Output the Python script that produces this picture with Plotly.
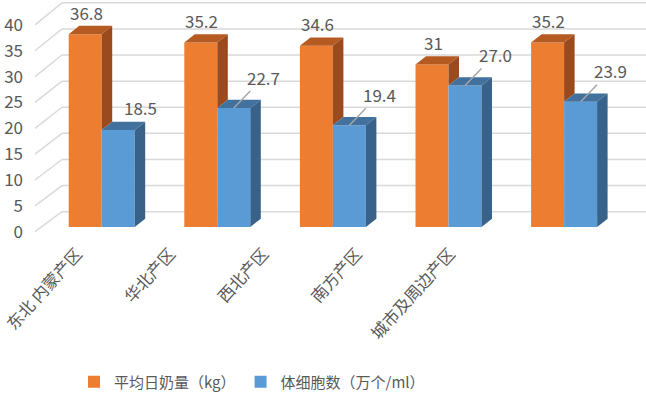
import plotly.graph_objects as go

# ---------------- data ----------------
categories = ["东北 内蒙产区", "华北产区", "西北产区", "南方产区", "城市及周边产区"]
milk_yield = [36.8, 35.2, 34.6, 31, 35.2]
milk_labels = ["36.8", "35.2", "34.6", "31", "35.2"]
somatic_cells = [18.5, 22.7, 19.4, 27.0, 23.9]
cell_labels = ["18.5", "22.7", "19.4", "27.0", "23.9"]
y_ticks = [0, 5, 10, 15, 20, 25, 30, 35, 40]
series_names = ["平均日奶量（kg）", "体细胞数（万个/ml）"]

# ---------------- layout geometry (pixels) ----------------
W, H = 646, 394
ML, MR, MT = 24, 0, 0
PLOT_BOTTOM = 240            # pixel row of plot-area bottom
MB = H - PLOT_BOTTOM
PW = W - ML - MR
PH = PLOT_BOTTOM - MT

# bar plane: value v -> px = 227 - 5.24 v ; category i centre -> 101.7 + 115.6 i
BAR_A, BAR_S = 227.0, 5.24
CAT_X0, CAT_DX = 101.7, 115.6
# front plane (axis labels)
FR_A, FR_S = 231.7, 5.17
# back wall grid
BK_A, BK_S = 211.7, 5.2225
FRONT_X, BACK_X = 35.0, 62.0
# label axis
LAB_X0, LAB_DX = 77.0, 93.25

def yrange(a, s):
    return [(a - PLOT_BOTTOM) / s, (a - MT) / s]

def xrange(x0, dx):
    return [(ML - x0) / dx, (W - MR - x0) / dx]

def px_to_paper_x(px):
    return (px - ML) / PW

def px_to_paper_y(py):
    return (PLOT_BOTTOM - py) / PH

bar_w = 33.0 / CAT_DX            # bar width in category units
depth_x = 10.5 / CAT_DX          # 3-D depth offset (x)
depth_y = 8.3 / BAR_S            # 3-D depth offset (y)

ORANGE, ORANGE_TOP, ORANGE_SIDE = "#ED7D31", "#B55B22", "#9A4A1C"
BLUE, BLUE_TOP, BLUE_SIDE = "#5B9BD5", "#41719C", "#39628A"
TXT = "#595959"
GRID = "#D9D9D9"
FONT = "Noto Sans CJK SC"

fig = go.Figure()
idx = list(range(len(categories)))

# front faces
fig.add_trace(go.Bar(x=idx, y=milk_yield, width=bar_w, offset=-bar_w,
                     marker=dict(color=ORANGE, line=dict(width=0)),
                     name=series_names[0], hoverinfo="skip"))
fig.add_trace(go.Bar(x=idx, y=somatic_cells, width=bar_w, offset=0,
                     marker=dict(color=BLUE, line=dict(width=0)),
                     name=series_names[1], hoverinfo="skip"))

def poly(xs, ys, color):
    fig.add_trace(go.Scatter(x=xs + [xs[0]], y=ys + [ys[0]], mode="lines",
                             fill="toself", fillcolor=color,
                             line=dict(width=0, color=color),
                             hoverinfo="skip", showlegend=False))

for i, (m, c) in enumerate(zip(milk_yield, somatic_cells)):
    ox0, ox1 = i - bar_w, i
    bx0, bx1 = i, i + bar_w
    # orange top
    poly([ox0, ox1, ox1 + depth_x, ox0 + depth_x], [m, m, m + depth_y, m + depth_y], ORANGE_TOP)
    # orange side (visible part above blue bar)
    lo = min(c, m)
    poly([ox1, ox1, ox1 + depth_x, ox1 + depth_x], [lo, m, m + depth_y, lo + depth_y], ORANGE_SIDE)
    # blue top
    poly([bx0, bx1, bx1 + depth_x, bx0 + depth_x], [c, c, c + depth_y, c + depth_y], BLUE_TOP)
    # blue side
    poly([bx1, bx1, bx1 + depth_x, bx1 + depth_x], [0, c, c + depth_y, depth_y], BLUE_SIDE)

# dummy trace on label axis so it renders
fig.add_trace(go.Scatter(x=idx, y=[0] * len(idx), xaxis="x2", yaxis="y2",
                         mode="markers", marker=dict(opacity=0), hoverinfo="skip",
                         showlegend=False))

# gridlines: back wall + floor diagonals
shapes = []
for v in y_ticks:
    yb = px_to_paper_y(BK_A - BK_S * v)
    yf = px_to_paper_y(FR_A - FR_S * v)
    shapes.append(dict(type="line", xref="paper", yref="paper",
                       x0=px_to_paper_x(BACK_X), x1=1, y0=yb, y1=yb,
                       line=dict(color=GRID, width=1.5), layer="below"))
    shapes.append(dict(type="line", xref="paper", yref="paper",
                       x0=px_to_paper_x(FRONT_X), x1=px_to_paper_x(BACK_X), y0=yf, y1=yb,
                       line=dict(color=GRID, width=1.5), layer="below"))

# data labels
LBL = 17
annotations = []
for i, (m, t) in enumerate(zip(milk_yield, milk_labels)):
    annotations.append(dict(x=i - bar_w / 2, y=m, xref="x", yref="y", text=t,
                            showarrow=False, yshift=22, xshift=1,
                            font=dict(family=FONT, size=LBL, color=TXT)))
for i, (c, t) in enumerate(zip(somatic_cells, cell_labels)):
    if i == 0:
        annotations.append(dict(x=i + bar_w / 2, y=c, xref="x", yref="y", text=t,
                                showarrow=False, xshift=22, yshift=23,
                                font=dict(family=FONT, size=LBL, color=TXT)))
    else:
        annotations.append(dict(x=i + bar_w / 2, y=c, xref="x", yref="y", text=t,
                                showarrow=True, arrowhead=0, arrowwidth=1.5,
                                arrowcolor="#A6A6A6", ax=30, ay=-31, standoff=0,
                                font=dict(family=FONT, size=LBL, color=TXT)))

fig.update_layout(
    width=W, height=H,
    margin=dict(l=ML, r=MR, t=MT, b=MB, autoexpand=False),
    paper_bgcolor="white", plot_bgcolor="white",
    barmode="overlay",
    shapes=shapes, annotations=annotations,
    font=dict(family=FONT, size=LBL, color=TXT),
    showlegend=True,
    legend=dict(orientation="h", x=px_to_paper_x(74), xanchor="left",
                y=px_to_paper_y(382), yanchor="middle",
                font=dict(family=FONT, size=15, color=TXT),
                itemwidth=30, tracegroupgap=0, traceorder="normal"),
    xaxis=dict(range=xrange(CAT_X0, CAT_DX), showgrid=False, zeroline=False,
               showticklabels=False, showline=False, fixedrange=True),
    xaxis2=dict(range=xrange(LAB_X0, LAB_DX), overlaying="x", anchor="y",
                side="bottom", tickmode="array", tickvals=idx, ticktext=categories,
                tickangle=-48, showgrid=False, zeroline=False, showline=False,
                ticklabeloverflow="allow",
                tickfont=dict(family=FONT, size=16.5, color=TXT)),
    yaxis=dict(range=yrange(BAR_A, BAR_S), showgrid=False, zeroline=False,
               showticklabels=False, showline=False),
    yaxis2=dict(range=yrange(FR_A, FR_S), overlaying="y", side="left",
                tickmode="array", tickvals=y_ticks, showgrid=False, zeroline=False,
                showline=False, tickfont=dict(family=FONT, size=17, color=TXT)),
)

fig.write_html("out.html", config={"displayModeBar": False},
               post_script="document.body.style.margin='0px';document.body.style.padding='0px';")
